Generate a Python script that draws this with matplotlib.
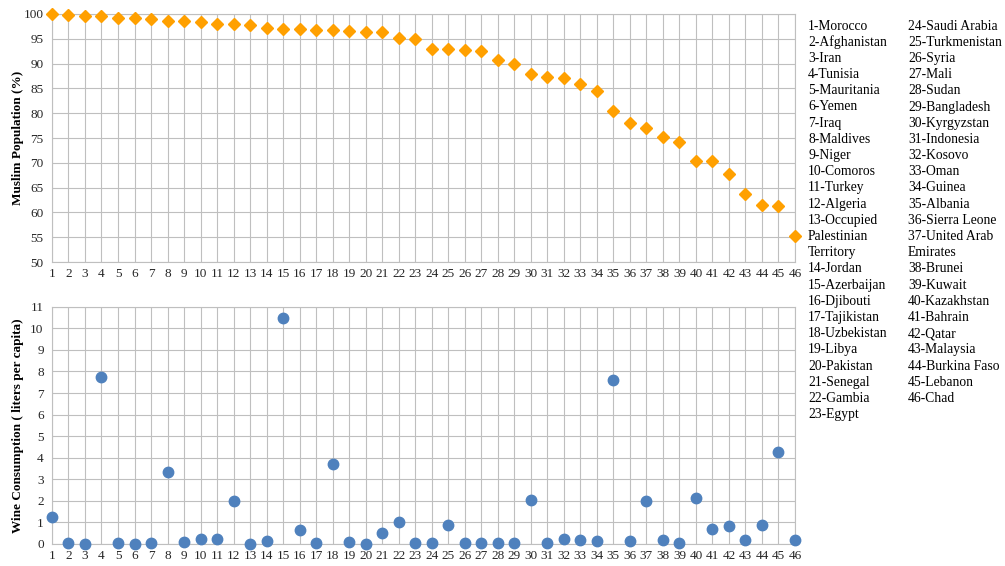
import numpy as np
import matplotlib.pyplot as plt

plt.rcParams['font.family'] = ['Liberation Serif', 'DejaVu Serif']

countries = ["Morocco", "Afghanistan", "Iran", "Tunisia", "Mauritania", "Yemen", "Iraq",
             "Maldives", "Niger", "Comoros", "Turkey", "Algeria",
             "Occupied\nPalestinian\nTerritory", "Jordan", "Azerbaijan", "Djibouti",
             "Tajikistan", "Uzbekistan", "Libya", "Pakistan", "Senegal", "Gambia", "Egypt",
             "Saudi Arabia", "Turkmenistan", "Syria", "Mali", "Sudan", "Bangladesh",
             "Kyrgyzstan", "Indonesia", "Kosovo", "Oman", "Guinea", "Albania",
             "Sierra Leone", "United Arab\nEmirates", "Brunei", "Kuwait", "Kazakhstan",
             "Bahrain", "Qatar", "Malaysia", "Burkina Faso", "Lebanon", "Chad"]

muslim_pct = [99.9, 99.7, 99.6, 99.6, 99.2, 99.2, 99.0, 98.5, 98.5, 98.3, 98.0, 98.0,
              97.7, 97.2, 96.9, 97.0, 96.7, 96.7, 96.6, 96.4, 96.4, 95.2, 95.0,
              93.0, 93.0, 92.8, 92.5, 90.8, 89.9, 88.0, 87.2, 87.0, 85.9, 84.5,
              80.4, 78.0, 77.0, 75.2, 74.1, 70.4, 70.3, 67.7, 63.8, 61.6, 61.2, 55.2]

wine_lpc = [1.24, 0.03, 0.0, 7.76, 0.03, 0.0, 0.03, 3.35, 0.09, 0.22, 0.22, 2.01,
            0.0, 0.12, 10.46, 0.63, 0.03, 3.71, 0.09, 0.0, 0.53, 1.04, 0.03,
            0.03, 0.9, 0.03, 0.06, 0.03, 0.03, 2.06, 0.03, 0.23, 0.2, 0.15,
            7.62, 0.15, 1.98, 0.19, 0.03, 2.13, 0.68, 0.83, 0.17, 0.87, 4.27, 0.2]

idx = np.arange(1, len(countries) + 1)
grid_c = '#BFBFBF'

fig = plt.figure(figsize=(10.05, 5.66), dpi=100)
ax1 = fig.add_axes([0.0517, 0.537, 0.7393, 0.4383])
ax2 = fig.add_axes([0.0517, 0.0389, 0.7393, 0.4191])

for ax in (ax1, ax2):
    ax.set_xlim(1, 46)
    ax.set_xticks(idx)
    ax.grid(True, color=grid_c, linewidth=0.8)
    ax.set_axisbelow(True)
    for s in ax.spines.values():
        s.set_color(grid_c)
        s.set_linewidth(0.8)
    ax.tick_params(length=0, labelsize=9.5, pad=4, colors='#262626')
    ax.tick_params(axis='y', pad=6)

ax1.plot(idx, muslim_pct, 'D', color='#FFA000', markersize=6.5, clip_on=False, zorder=3)
ax1.set_ylim(50, 100)
ax1.set_yticks(np.arange(50, 101, 5))
ax1.set_ylabel("Muslim Population (%)", fontsize=9.5, fontweight='bold')

ax2.plot(idx, wine_lpc, 'o', color='#4F81BD', markersize=7.5, clip_on=False, zorder=3)
ax2.set_ylim(0, 11)
ax2.set_yticks(np.arange(0, 12, 1))
ax2.set_ylabel("Wine Consumption ( liters per capita)", fontsize=9.5, fontweight='bold')
ax1.yaxis.set_label_coords(-0.038, 0.5)
ax2.yaxis.set_label_coords(-0.038, 0.5)

# legend columns on the right
line_h = 16.2 / 566
cols = [(808, 0, 23), (908, 23, 46)]
for xpx, a, b in cols:
    row = 0
    for k in range(a, b):
        for j, part in enumerate(countries[k].split("\n")):
            label = f"{k + 1}-{part}" if j == 0 else part
            fig.text(xpx / 1005, 1 - 26 / 566 - row * line_h, label,
                     fontsize=9.8, va='center', ha='left')
            row += 1

fig.savefig("out.png", dpi=100)
